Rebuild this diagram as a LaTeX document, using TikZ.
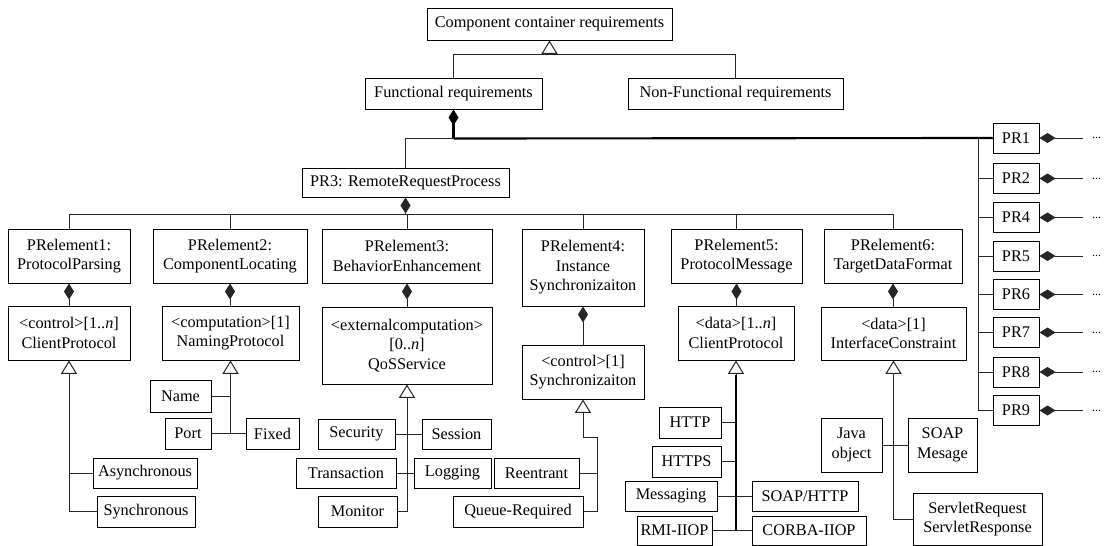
\documentclass[tikz,border=0pt]{standalone}
\usepackage{fontspec}
\setmainfont{Liberation Serif}
\usetikzlibrary{arrows.meta}
\newcommand{\mybox}[6]{\node[box,minimum width={((#4)-(#2))*0.75pt},minimum height={((#5)-(#3))*0.75pt}] (#1) at ({((#2)+(#4))/2},{((#3)+(#5))/2}) {#6};}
\begin{document}
\begin{tikzpicture}[x=0.75pt,y=-0.75pt,
  font=\fontsize{12.2pt}{14.6pt}\selectfont,
  box/.style={draw=black,line width=0.75pt,inner sep=0pt,align=center},
  ln/.style={draw=black!85,line width=0.75pt},
  thk/.style={draw=black,line width=1.6pt},
  comp/.style={{Diamond[length=12pt,width=7.5pt]}-},
  gen/.style={{Triangle[open,length=10pt,width=12pt]}-},
]
\fill[white] (0,0) rectangle (1108,546);
\useasboundingbox (0,0) rectangle (1108,546);

% top
\mybox{ccr}{427}{8}{672}{40}{Component container requirements}
\mybox{fr}{365}{78}{542}{109}{Functional requirements}
\mybox{nfr}{628}{78}{843}{109}{Non-Functional requirements}
\mybox{pr3}{302}{168}{509}{197}{PR3: RemoteRequestProcess}

% PRelements
\mybox{p1}{8}{229}{130}{283}{PRelement1:\\ProtocolParsing}
\mybox{p2}{153}{229}{307}{283}{PRelement2:\\ComponentLocating}
\mybox{p3}{322}{229}{492}{283}{PRelement3:\\BehaviorEnhancement}
\mybox{p4}{522}{229}{644}{306}{PRelement4:\\Instance\\Synchronizaiton}
\mybox{p5}{671}{229}{802}{283}{PRelement5:\\ProtocolMessage}
\mybox{p6}{824}{229}{962}{283}{PRelement6:\\TargetDataFormat}

% children
\mybox{c1}{8}{306}{130}{360}{<control>[1..\textit{n}]\\ClientProtocol}
\mybox{c2}{162}{306}{299}{360}{<computation>[1]\\NamingProtocol}
\mybox{c3}{322}{307}{492}{384}{<externalcomputation>\\{}[0..\textit{n}]\\QoSService}
\mybox{c4}{522}{345}{644}{399}{<control>[1]\\Synchronizaiton}
\mybox{c5}{678}{306}{794}{360}{<data>[1..\textit{n}]\\ClientProtocol}
\mybox{c6}{821}{307}{966}{360}{<data>[1]\\InterfaceConstraint}

% leaves
\mybox{async}{93}{458}{197}{488}{Asynchronous}
\mybox{sync}{97}{496}{195}{527}{Synchronous}
\mybox{name}{150}{380}{211}{412}{Name}
\mybox{port}{165}{418}{211}{449}{Port}
\mybox{fixed}{246}{418}{299}{449}{Fixed}
\mybox{secu}{318}{419}{395}{449}{Security}
\mybox{sess}{422}{419}{491}{449}{Session}
\mybox{trans}{296}{458}{396}{488}{Transaction}
\mybox{logg}{414}{458}{491}{488}{Logging}
\mybox{moni}{318}{496}{397}{527}{Monitor}
\mybox{reent}{494}{458}{579}{488}{Reentrant}
\mybox{queue}{453}{496}{583}{527}{Queue-Required}
\mybox{http}{659}{407}{721}{438}{HTTP}
\mybox{https}{652}{446}{721}{477}{HTTPS}
\mybox{msg}{625}{481}{717}{511}{Messaging}
\mybox{soaph}{752}{481}{858}{511}{SOAP/HTTP}
\mybox{rmi}{637}{516}{712}{545}{RMI-IIOP}
\mybox{corba}{752}{516}{866}{545}{CORBA-IIOP}
\mybox{java}{821}{418}{882}{472}{Java\\object}
\mybox{soapm}{908}{418}{977}{472}{SOAP\\Mesage}
\mybox{serv}{913}{493}{1042}{545}{ServletRequest\\ServletResponse}

% top connectors
\path (ccr.south) ++(0,14) coordinate (tj);
\draw[ln,gen] (ccr.south) -- (tj);
\draw[ln] (fr.north) |- (tj) -| (nfr.north);

% PR column
\coordinate (vtop) at (978,138);
\foreach \lab/\yy in {PR1/138,PR2/178.5,PR4/217.5,PR5/256,PR6/294.5,PR7/332.5,PR8/372,PR9/410.5}{
  \mybox{\lab}{993}{\yy-15}{1039}{\yy+15}{\lab}
  \draw[ln] (\lab.west) -- (\lab.west -| vtop);
  \draw[ln,comp] (\lab.east) -- ++(43,0) coordinate (e\lab);
  \node[anchor=west,inner sep=0pt,font=\fontsize{9pt}{10pt}\selectfont] (d\lab) at ([xshift=7pt]e\lab) {...};
}
\draw[ln] (vtop) -- (vtop |- PR9.west);

\draw[thk,comp] (fr.south) -- ++(0,29) coordinate (fj);
\draw[thk] (fj) -- (PR1.west);
\draw[ln] (fj) -| (pr3.north);

% PR3 hub
\path (pr3.south) ++(0,17) coordinate (hj);
\draw[ln,comp] (pr3.south) -- (hj);
\draw[ln] (p1.north) |- (hj) -| (p6.north);
\foreach \n in {p2,p3,p4,p5} \draw[ln] (\n.north) -- (\n.north |- hj);

\foreach \a/\b in {p1/c1,p2/c2,p3/c3,p4/c4,p5/c5,p6/c6}
  \draw[ln,comp] (\a.south) -- (\a.south |- \b.north);

% c1
\draw[ln,gen] (c1.south) |- (sync.west);
\draw[ln] (async.west) -- (async.west -| c1.south);
% c2
\draw[ln,gen] (c2.south) -- (c2.south |- port.east);
\draw[ln] (port.east) -- (fixed.west);
\draw[ln] (name.east) -- (name.east -| c2.south);
% c3
\draw[ln,gen] (c3.south) |- (moni.east);
\draw[ln] (secu.east) -- (sess.west);
\draw[ln] (trans.east) -- (logg.west);
% c4
\path (c4.south) ++(14,38) coordinate (k1);
\draw[ln,gen] (c4.south) |- (k1) |- (queue.east);
\draw[ln] (reent.east) -- (reent.east -| k1);
% c5
\draw[ln,gen] (c5.south) -- (c5.south |- rmi.east);
\draw[line width=1.4pt] ([yshift=-10.5pt]c5.south) -- (c5.south |- rmi.east);
\foreach \n in {http,https,msg,rmi} \draw[ln] (\n.east) -- (\n.east -| c5.south);
\draw[ln] (msg.east) -- (soaph.west);
\draw[ln] (rmi.east) -- (corba.west);
% c6
\draw[ln,gen] (c6.south) |- (serv.west);
\draw[ln] (java.east) -- (soapm.west);
\end{tikzpicture}
\end{document}
